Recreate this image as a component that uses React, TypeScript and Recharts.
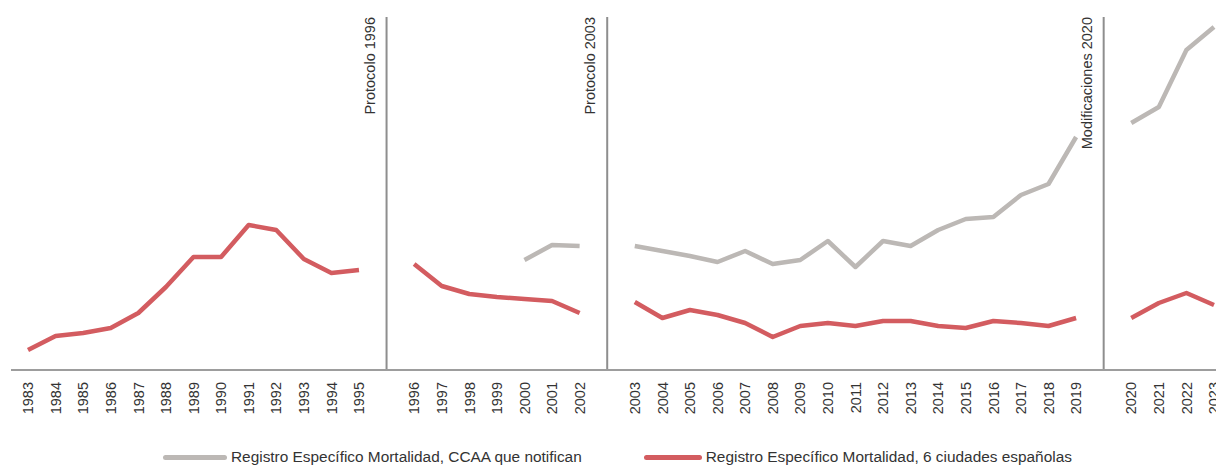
import { LineChart, Line, XAxis, YAxis, ReferenceLine } from 'recharts';

// categories: g1/g2/g3 are the empty slots where the protocol changes
const years = [
  '1983', '1984', '1985', '1986', '1987', '1988', '1989', '1990', '1991', '1992', '1993', '1994', '1995',
  'g1',
  '1996', '1997', '1998', '1999', '2000', '2001', '2002',
  'g2',
  '2003', '2004', '2005', '2006', '2007', '2008', '2009', '2010', '2011', '2012', '2013', '2014', '2015', '2016', '2017', '2018', '2019',
  'g3',
  '2020', '2021', '2022', '2023',
];

const ccaa = [
  null, null, null, null, null, null, null, null, null, null, null, null, null,
  null,
  null, null, null, null, 11.0, 12.5, 12.4,
  null,
  12.4, 11.9, 11.4, 10.8, 11.9, 10.6, 11.0, 12.9, 10.3, 12.9, 12.4, 14.0, 15.1, 15.3, 17.5, 18.6, 23.3,
  null,
  24.7, 26.3, 32.0, 34.3,
];

const ciudades = [
  2.0, 3.4, 3.7, 4.2, 5.7, 8.3, 11.3, 11.3, 14.5, 14.0, 11.1, 9.7, 10.0,
  null,
  10.6, 8.4, 7.6, 7.3, 7.1, 6.9, 5.7,
  null,
  6.8, 5.2, 6.0, 5.5, 4.7, 3.3, 4.4, 4.7, 4.4, 4.9, 4.9, 4.4, 4.2, 4.9, 4.7, 4.4, 5.2,
  null,
  5.2, 6.7, 7.7, 6.5,
];

const events = [
  { x: 'g1', label: 'Protocolo 1996' },
  { x: 'g2', label: 'Protocolo 2003' },
  { x: 'g3', label: 'Modificaciones 2020' },
];

const GRAY = '#bcb8b5';
const RED = '#d35c60';
const FONT = '"Liberation Sans", Arial, Helvetica, sans-serif';

const data = years.map((year, i) => ({ year, ccaa: ccaa[i], ciudades: ciudades[i] }));

function YearTick({ x, y, payload }: any) {
  if (String(payload.value).startsWith('g')) return <g />;
  return (
    <text
      x={x}
      y={y}
      transform={`rotate(-90 ${x} ${y})`}
      textAnchor="end"
      dy="0.36em"
      fontSize={14.5}
      fontFamily={FONT}
      fill="#333"
    >
      {payload.value}
    </text>
  );
}

function EventLabel({ viewBox, text }: any) {
  const x = viewBox.x - 17;
  const y = viewBox.y;
  return (
    <text
      x={x}
      y={y}
      transform={`rotate(-90 ${x} ${y})`}
      textAnchor="end"
      dy="0.36em"
      fontSize={14.5}
      fontFamily={FONT}
      fill="#333"
    >
      {text}
    </text>
  );
}

export default function App() {
  return (
    <div
      style={{
        position: 'absolute',
        left: 0,
        top: 0,
        width: 1216,
        height: 466,
        overflow: 'hidden',
        background: '#fff',
        fontFamily: FONT,
      }}
    >
      <LineChart width={1230} height={466} data={data} margin={{ top: 17, right: 0, left: 11, bottom: 0 }}>
        <XAxis
          dataKey="year"
          interval={0}
          height={96}
          tickSize={0}
          tickMargin={12}
          tickLine={false}
          axisLine={{ stroke: '#9d9d9d', strokeWidth: 2 }}
          padding={{ left: 17, right: 16 }}
          tick={<YearTick />}
        />
        <YAxis hide domain={[0, 35.3]} allowDataOverflow />
        {events.map((e) => (
          <ReferenceLine
            key={e.x}
            x={e.x}
            stroke="#8e8e8e"
            strokeWidth={2}
            label={<EventLabel text={e.label} />}
          />
        ))}
        <Line
          type="linear"
          dataKey="ccaa"
          stroke={GRAY}
          strokeWidth={4.5}
          strokeLinejoin="round"
          dot={false}
          activeDot={false}
          isAnimationActive={false}
        />
        <Line
          type="linear"
          dataKey="ciudades"
          stroke={RED}
          strokeWidth={4.5}
          strokeLinejoin="round"
          dot={false}
          activeDot={false}
          isAnimationActive={false}
        />
      </LineChart>
      <div
        style={{
          position: 'absolute',
          top: 448,
          left: 163,
          display: 'flex',
          alignItems: 'center',
          fontSize: 15.4,
          color: '#333',
          whiteSpace: 'nowrap',
        }}
      >
        <div style={{ width: 64, height: 5, borderRadius: 3, background: GRAY, marginRight: 4 }} />
        <span>Registro Específico Mortalidad, CCAA que notifican</span>
        <div style={{ width: 58, height: 5, borderRadius: 3, background: RED, marginLeft: 62, marginRight: 4 }} />
        <span>Registro Específico Mortalidad, 6 ciudades españolas</span>
      </div>
    </div>
  );
}
